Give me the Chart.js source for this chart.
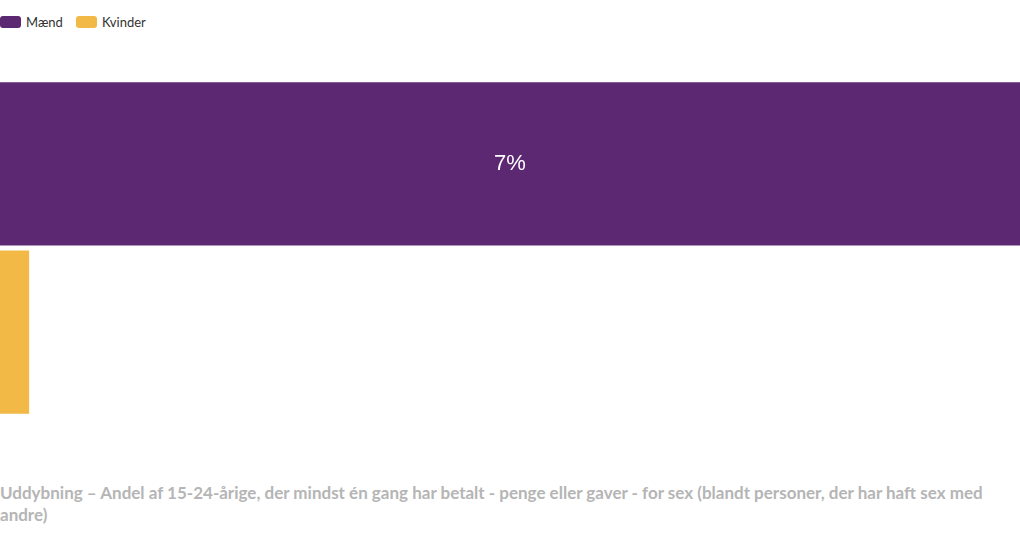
<!DOCTYPE html>
<html>
<head>
<meta charset="utf-8">
<script src="https://cdn.jsdelivr.net/npm/chart.js@4"></script>
<style>
  body { margin: 0; background: #fff; font-family: "Lato", "Open Sans", sans-serif; }
  #legend { position: absolute; top: 14px; left: 0; display: flex; font-size: 13px; color: #333; }
  #legend .item { display: flex; align-items: center; margin-right: 13px; }
  #legend .box { width: 21px; height: 12px; border-radius: 3px; margin-right: 5px; }
  #wrap { position: absolute; top: 59px; left: 0; width: 1020px; height: 378px; }
  #note { position: absolute; top: 482px; left: 0; width: 1000px; font-weight: bold; font-size: 17px;
          line-height: 22px; color: #b5b5b5; }
</style>
</head>
<body>
<div id="legend"></div>
<div id="wrap"><canvas id="chart"></canvas></div>
<div id="note">Uddybning – Andel af 15-24-årige, der mindst én gang har betalt - penge eller gaver - for sex (blandt personer, der har haft sex med andre)</div>
<script>
// Data
var CATEGORIES = [''];
var SERIES_NAMES = ['Mænd', 'Kvinder'];
var MEN_VALUES = [7];
var WOMEN_VALUES = [0.2];
var COLORS = ['#5c2872', '#f2b946'];

// simple html legend built from the series
var legend = document.getElementById('legend');
SERIES_NAMES.forEach(function (name, i) {
  var item = document.createElement('div');
  item.className = 'item';
  item.innerHTML = '<span class="box" style="background:' + COLORS[i] + '"></span>' + name;
  legend.appendChild(item);
});

// value labels inside the bars (only where they fit)
var barLabels = {
  id: 'barLabels',
  afterDatasetsDraw: function (chart) {
    var ctx = chart.ctx;
    ctx.save();
    ctx.font = '22px "Liberation Sans", Arial, sans-serif';
    ctx.fillStyle = '#fff';
    ctx.textAlign = 'center';
    ctx.textBaseline = 'middle';
    chart.data.datasets.forEach(function (ds, di) {
      chart.getDatasetMeta(di).data.forEach(function (bar, i) {
        var w = bar.x - bar.base;
        if (w < 50) { return; }
        ctx.fillText(ds.data[i] + '%', bar.base + w / 2, bar.y);
      });
    });
    ctx.restore();
  }
};

new Chart(document.getElementById('chart'), {
  type: 'bar',
  data: {
    labels: CATEGORIES,
    datasets: [
      { label: SERIES_NAMES[0], data: MEN_VALUES, backgroundColor: COLORS[0] },
      { label: SERIES_NAMES[1], data: WOMEN_VALUES, backgroundColor: COLORS[1] }
    ]
  },
  options: {
    indexAxis: 'y',
    responsive: true,
    maintainAspectRatio: false,
    animation: false,
    categoryPercentage: 0.89,
    barPercentage: 0.97,
    layout: { padding: 0 },
    scales: {
      x: { display: false, min: 0, max: 7 },
      y: { display: false }
    },
    plugins: {
      legend: { display: false },
      tooltip: { enabled: false }
    }
  },
  plugins: [barLabels]
});
</script>
</body>
</html>
